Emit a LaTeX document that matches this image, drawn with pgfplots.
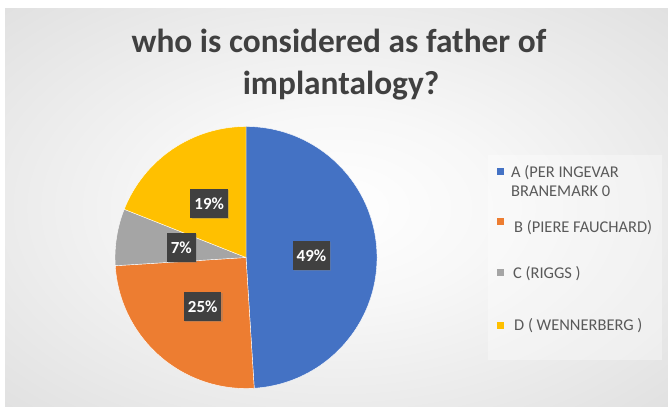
\documentclass[border=0pt]{standalone}
\usepackage{pgfplots}
\pgfplotsset{compat=1.18}
\usepackage{pgfplotstable}
\usetikzlibrary{shadows}
\usepackage{fontspec}
\setmainfont{Carlito}
\definecolor{pie0}{HTML}{4472C4}
\definecolor{pie1}{HTML}{ED7D31}
\definecolor{pie2}{HTML}{A5A5A5}
\definecolor{pie3}{HTML}{FFC000}
\definecolor{titlegray}{HTML}{404040}
\definecolor{leggray}{HTML}{595959}
\definecolor{lblbox}{HTML}{404040}
\pgfdeclareradialshading{bgshade}{\pgfpoint{0bp}{0bp}}{color(0bp)=(white); color(12bp)=(white!97!black); color(36bp)=(white!88!black); color(50bp)=(white!81!black)}

\pgfplotstableread{
share
49
25
7
19
}\piedata

\begin{document}%
\begin{tikzpicture}%
\gdef\piecum{0}%
\pgfplotsforeachungrouped \i in {0,1,2,3}{%
  \pgfplotstablegetelem{\i}{share}\of\piedata%
  \let\pieval\pgfplotsretval%
  \pgfmathsetmacro{\pieS}{90-3.6*\piecum}%
  \pgfmathsetmacro{\pieE}{90-3.6*(\piecum+\pieval)}%
  \pgfmathsetmacro{\pieM}{(\pieS+\pieE)/2}%
  \expandafter\xdef\csname ps\i\endcsname{\pieS}%
  \expandafter\xdef\csname pe\i\endcsname{\pieE}%
  \expandafter\xdef\csname pm\i\endcsname{\pieM}%
  \expandafter\xdef\csname pv\i\endcsname{\pieval}%
  \pgfmathsetmacro{\piecumnew}{\piecum+\pieval}%
  \xdef\piecum{\piecumnew}%
}%
\useasboundingbox (0bp,0bp) rectangle (668bp,407bp);
\fill[white] (0bp,0bp) rectangle (668bp,407bp);
\shade[shading=bgshade] (5bp,0bp) rectangle (668bp,398bp);
% title
\node[anchor=base, font=\bfseries\fontsize{33.5}{40}\selectfont, text=titlegray, inner sep=0pt] at (339bp,354bp) {who is considered as father of};
\node[anchor=base, font=\bfseries\fontsize{33.5}{40}\selectfont, text=titlegray, inner sep=0pt] at (341bp,312bp) {implantalogy?};
% legend
\fill[white, opacity=0.35] (488bp,47bp) rectangle (662bp,252bp);
\fill[pie0] (496.5bp,232bp) rectangle (503.5bp,239bp);
\fill[pie1] (496.5bp,182bp) rectangle (503.5bp,189bp);
\fill[pie2] (496.5bp,130.5bp) rectangle (503.5bp,137.5bp);
\fill[pie3] (496.5bp,78bp) rectangle (503.5bp,85bp);
\begin{scope}[every node/.style={anchor=base west, inner sep=0pt, text=leggray, font=\fontsize{16.5}{19}\selectfont}]
\node at (511bp,229bp) {A (PER INGEVAR};
\node at (511bp,210bp) {BRANEMARK 0};
\node at (514bp,174bp) {B (PIERE FAUCHARD)};
\node at (513bp,128bp) {C (RIGGS )};
\node at (514bp,76bp) {D ( WENNERBERG )};
\end{scope}
\begin{axis}[at={(246bp,149.5bp)}, anchor=center, hide axis, x=131bp, y=131bp,
  xmin=-1, xmax=1, ymin=-1, ymax=1, clip=false]
\pgfplotsinvokeforeach{0,1,2,3}{
  \fill[pie#1, draw=white, line width=0.4pt] (axis cs:0,0) -- ++(\csname ps#1\endcsname:131bp)
    arc[start angle=\csname ps#1\endcsname, end angle=\csname pe#1\endcsname, radius=131bp] -- cycle;
}
\pgfplotsinvokeforeach{0,1,2,3}{
  \node[fill=lblbox, text=white, font=\bfseries\fontsize{17}{19}\selectfont,
    inner xsep=4bp, minimum height=29bp,
    drop shadow={shadow xshift=1.2bp, shadow yshift=-1.2bp, opacity=0.35}]
    at (axis cs:{0.5*cos(\csname pm#1\endcsname)},{0.5*sin(\csname pm#1\endcsname)}) {\csname pv#1\endcsname\%};
}
\end{axis}
\end{tikzpicture}%
\end{document}
